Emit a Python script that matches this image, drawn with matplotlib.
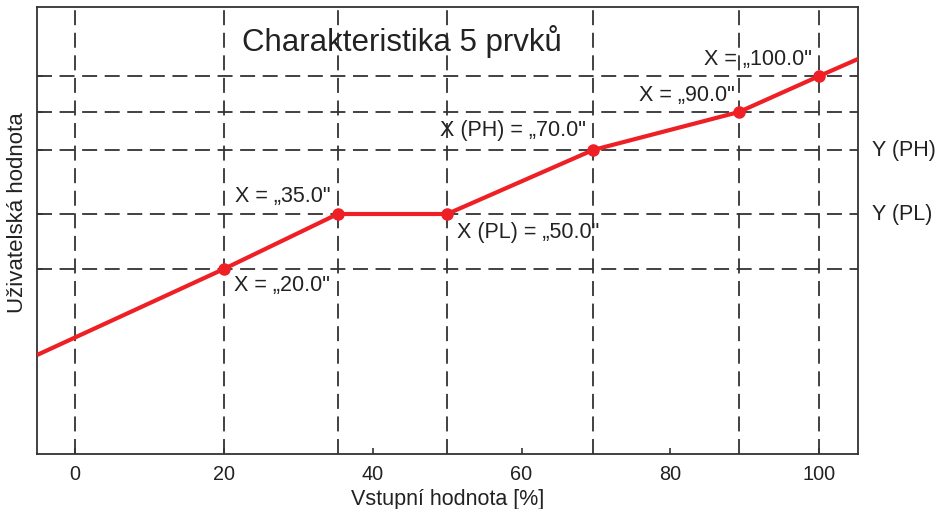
import matplotlib
matplotlib.use("Agg")
import matplotlib.pyplot as plt

plt.rcParams['font.family'] = ['Liberation Sans', 'DejaVu Sans']

# data
point_x = [20, 35.3, 50, 69.6, 89.2, 100]
point_y = [185, 240, 240, 304, 342, 378]
line_x = [-5.1, 20, 35.3, 50, 69.6, 89.2, 100, 105.2]
line_y = [99, 185, 240, 240, 304, 342, 378, 395]
vlines = [0, 20, 35.3, 50, 69.6, 89.2, 100]
hlines = [185, 240, 304, 342, 378]
xticks = [0, 20, 40, 60, 80, 100]
labels = ['X = „20.0"', 'X = „35.0"', 'X (PL) = „50.0"', 'X (PH) = „70.0"', 'X = „90.0"', 'X = „100.0"']
label_pos = [(21.3, 170, 'left'), (34.3, 258, 'right'), (51.3, 222, 'left'), (68.6, 324, 'right'), (88.6, 359, 'right'), (99, 395, 'right')]
right_labels = ['Y (PH)', 'Y (PL)']
right_y = [304, 240]

fig = plt.figure(figsize=(9.4, 5.1), dpi=100)
ax = fig.add_axes([37/940, 1 - 455/510, (858-37)/940, (455-8)/510])
ax.set_xlim(-5.1, 105.2)
ax.set_ylim(0, 447)

dash = (0, (8.3, 4.2))
for v in vlines:
    ax.axvline(v, color='#333333', lw=1.3, linestyle=dash, zorder=1)
for h in hlines:
    ax.axhline(h, color='#333333', lw=1.3, linestyle=dash, zorder=1)

ax.plot(line_x, line_y, color='#EE2026', lw=3, zorder=3, solid_capstyle='butt')
ax.plot(point_x, point_y, 'o', color='#EE2026', ms=8, zorder=4)

for t, (x, y, ha) in zip(labels, label_pos):
    ax.text(x, y, t, fontsize=15.5, ha=ha, va='center', color='#222222')

for t, y in zip(right_labels, right_y):
    ax.text(1.017, y, t, transform=ax.get_yaxis_transform(), fontsize=15.5, ha='left', va='center', color='#222222')

ax.text(0.444, 0.925, 'Charakteristika 5 prvků', transform=ax.transAxes, fontsize=22.5,
        ha='center', va='center', color='#222222')

ax.set_xticks(xticks)
ax.set_xticklabels([str(v) for v in xticks], fontsize=14.3, color='#222222')
ax.set_yticks(hlines)
ax.set_yticklabels([])
ax.tick_params(direction='in', length=4, width=1.2, color='#333333', pad=7)
ax.set_xlabel('Vstupní hodnota [%]', fontsize=15.5, color='#222222')
ax.xaxis.set_label_coords(0.5, -34/447)
ax.set_ylabel('Uživatelská hodnota', fontsize=16, color='#222222')
ax.yaxis.set_label_coords(-9/821, 0.543)
for s in ax.spines.values():
    s.set_color('#333333')
    s.set_linewidth(1.3)

fig.savefig('out.png', dpi=100)
